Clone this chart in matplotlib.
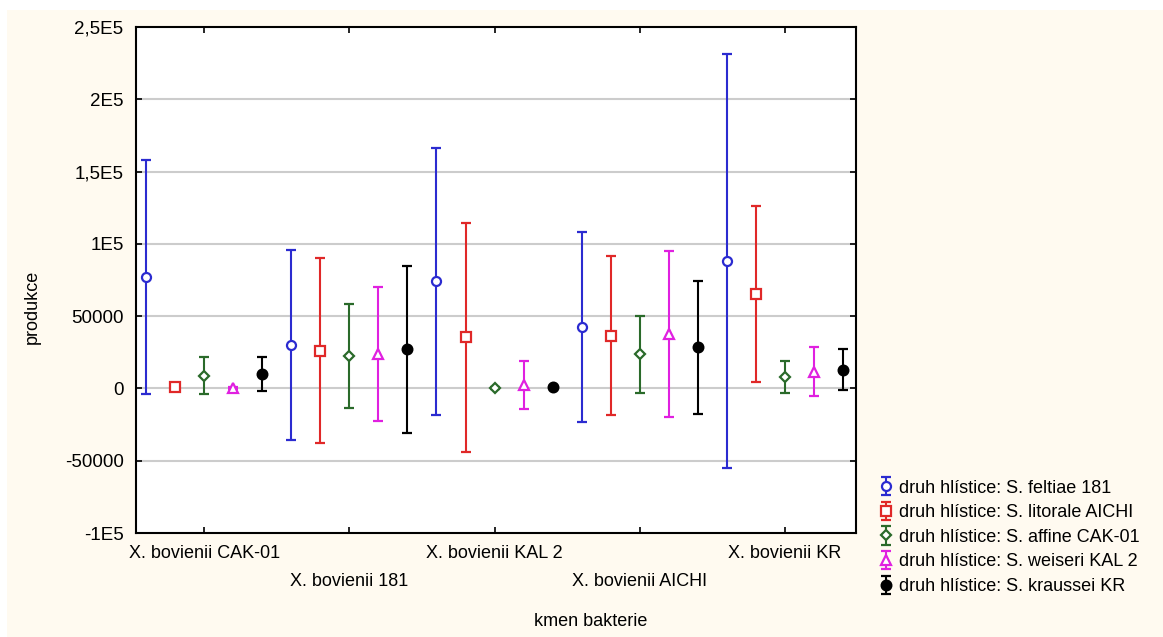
import matplotlib.pyplot as plt
import numpy as np
from matplotlib import rcParams
from matplotlib.patches import Rectangle
rcParams['font.family'] = 'sans-serif'
rcParams['font.sans-serif'] = ['Liberation Sans', 'DejaVu Sans']

# data
kmeny = ['X. bovienii CAK-01', 'X. bovienii 181', 'X. bovienii KAL 2',
         'X. bovienii AICHI', 'X. bovienii KR']
druhy = ['druh hlístice: S. feltiae 181', 'druh hlístice: S. litorale AICHI',
         'druh hlístice: S. affine CAK-01', 'druh hlístice: S. weiseri KAL 2',
         'druh hlístice: S. kraussei KR']

feltiae_mean = [77000, 30000, 74000, 42500, 88000]
feltiae_err = [81000, 65500, 92500, 66000, 143000]
litorale_mean = [1200, 26000, 35300, 36400, 65500]
litorale_err = [800, 64000, 79300, 55000, 61000]
affine_mean = [8800, 22200, 500, 23700, 8000]
affine_err = [12600, 36000, 800, 26700, 11000]
weiseri_mean = [500, 23700, 2400, 37500, 11600]
weiseri_err = [800, 46300, 16400, 57300, 16900]
kraussei_mean = [10000, 27000, 900, 28500, 13000]
kraussei_err = [11500, 57500, 800, 46000, 14400]

yticks = [-100000, -50000, 0, 50000, 100000, 150000, 200000, 250000]
ytick_labels = ['-1E5', '-50000', '0', '50000', '1E5', '1,5E5', '2E5', '2,5E5']

means = [feltiae_mean, litorale_mean, affine_mean, weiseri_mean, kraussei_mean]
errs = [feltiae_err, litorale_err, affine_err, weiseri_err, kraussei_err]
colors = ['#2b2bd0', '#e02828', '#2a6a2a', '#e020e0', '#000000']
markers = ['o', 's', 'D', '^', 'o']
msizes = [6.5, 7.5, 5.5, 7, 7]
faces = ['white', 'white', 'white', 'white', '#000000']

fig = plt.figure(figsize=(11.63, 6.37), dpi=100)
fig.patch.set_facecolor('white')
fig.patches.append(Rectangle((7 / 1163, 0), 1, 1 - 10 / 637, transform=fig.transFigure,
                             facecolor='#fffaf0', edgecolor='none', zorder=-10))

ax = fig.add_axes([136 / 1163, 1 - 533 / 637, 720 / 1163, 506 / 637])
ax.set_facecolor('white')

x = np.arange(len(kmeny))
offsets = [-0.4, -0.2, 0.0, 0.2, 0.4]
handles = []
for i in range(5):
    h = ax.errorbar(x + offsets[i], means[i], yerr=errs[i], fmt=markers[i],
                    color=colors[i], mfc=faces[i], mec=colors[i], mew=1.6,
                    ms=msizes[i], elinewidth=1.5, capsize=3.5, capthick=1.5,
                    label=druhy[i], zorder=3)
    handles.append(h)

ax.set_xlim(-0.47, 4.49)
ax.set_ylim(-100000, 250000)
ax.set_yticks(yticks)
ax.set_yticklabels(ytick_labels, fontsize=13.5)
ax.set_xticks(x)
ax.set_xticklabels([])
for i, k in enumerate(kmeny):
    ax.text(x[i], -0.024 if i % 2 == 0 else -0.079, k, transform=ax.get_xaxis_transform(),
            ha='center', va='top', fontsize=13)

for yv in yticks[1:-1]:
    ax.axhline(yv, color='#cccccc', lw=1.5, zorder=1)

ax.tick_params(direction='in', length=4, width=1.2, top=True, right=True, pad=9)
for s in ax.spines.values():
    s.set_linewidth(1.5)

fig.text(32 / 1163, 1 - 307 / 637, 'produkce', rotation=90, ha='center', va='center', fontsize=13)
fig.text(591 / 1163, 1 - 622 / 637, 'kmen bakterie', ha='center', va='center', fontsize=13)

fig.legend(handles=handles, loc='lower left', bbox_to_anchor=(868 / 1163, 1 - 604 / 637),
           frameon=False, fontsize=13, handlelength=1.0, handletextpad=0.2,
           labelspacing=0.42, borderpad=0)

plt.savefig('out.png', dpi=100)
plt.close()
